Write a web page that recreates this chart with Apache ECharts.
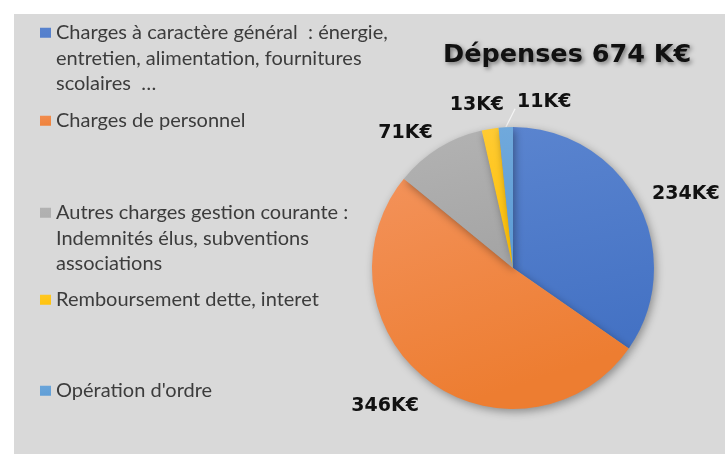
<!DOCTYPE html>
<html>
<head>
<meta charset="utf-8">
<script src="https://cdn.jsdelivr.net/npm/echarts@6/dist/echarts.min.js"></script>
<style>
  html, body { margin: 0; padding: 0; background: #fff; }
  #wrap { position: relative; width: 725px; height: 454px; background: #fff; overflow: hidden; }
  #chart { position: absolute; left: 14px; top: 14px; width: 711px; height: 440px; background: #d9d9d9; }
</style>
</head>
<body>
<div id="wrap"><div id="chart"></div></div>
<script>
// postes de dépenses (K€)
var categories = [
  'Charges à caractère général  : énergie,\nentretien, alimentation, fournitures\nscolaires  …',
  'Charges de personnel',
  'Autres charges gestion courante :\nIndemnités élus, subventions\nassociations',
  'Remboursement dette, interet',
  "Opération d'ordre"
];
var values = [234, 346, 71, 13, 11];
var titleText = 'Dépenses 674 K€';
var unit = 'K€';

var baseColors = ['#4472C4', '#ED7D31', '#A5A5A5', '#FFC000', '#5B9BD5'];
var lightColors = ['#5A84CF', '#F3925A', '#B3B3B3', '#FFCB33', '#70A9DC'];

var chartInstance = echarts.init(document.getElementById('chart'));

var LH = 25.5; // hauteur de ligne de la légende
function legendFor(idx, top) {
  var lines = categories[idx].split('\n').length;
  var h = lines * LH;
  var y0 = LH / 2 - 5;
  return {
    data: [categories[idx]],
    orient: 'vertical',
    left: 26,
    top: top,
    padding: 0,
    itemWidth: 11,
    itemHeight: h,
    icon: 'path://M0,0h0.01M0,' + y0 + 'h11v10h-11zM0,' + h + 'h0.01',
    itemStyle: { borderWidth: 0, shadowBlur: 0 },
    textStyle: {
      fontFamily: 'Lato',
      fontSize: 20,
      lineHeight: LH,
      color: '#3c3c3c'
    },
    selectedMode: false
  };
}

var seriesData = [];
for (var i = 0; i < values.length; i++) {
  var item = {
    name: categories[i],
    value: values[i],
    itemStyle: {
      color: {
        type: 'linear', x: 0, y: 0, x2: 0.3, y2: 1,
        colorStops: [
          { offset: 0, color: lightColors[i] },
          { offset: 1, color: baseColors[i] }
        ]
      }
    }
  };
  if (i === 4) {
    item.labelLine = { show: true, lineStyle: { color: '#f4f4f4', width: 1.2 } };
  }
  seriesData.push(item);
}

// petits décalages des étiquettes
var labelShift = [[-13, 3], [11, 6], [12, 6], [23, 1], [72, 0]];

var option = {
  animation: false,
  title: {
    text: titleText,
    left: 429,
    top: 28,
    padding: 0,
    textStyle: {
      fontFamily: 'DejaVu Sans',
      fontWeight: 'bold',
      fontSize: 25.5,
      color: '#111',
      textShadowColor: 'rgba(0,0,0,0.45)',
      textShadowBlur: 4,
      textShadowOffsetX: 2,
      textShadowOffsetY: 2
    }
  },
  legend: [
    legendFor(0, 6),
    legendFor(1, 94),
    legendFor(2, 186),
    legendFor(3, 273),
    legendFor(4, 364)
  ],
  series: [
    {
      type: 'pie',
      center: [499, 254],
      radius: [0, 141],
      startAngle: 90,
      clockwise: true,
      avoidLabelOverlap: false,
      data: seriesData,
      itemStyle: {
        borderWidth: 0,
        shadowBlur: 8,
        shadowColor: 'rgba(0,0,0,0.35)',
        shadowOffsetX: 2,
        shadowOffsetY: 3
      },
      label: {
        show: true,
        position: 'outside',
        formatter: '{c}' + unit,
        fontFamily: 'DejaVu Sans',
        fontWeight: 'bold',
        fontSize: 19,
        color: '#111'
      },
      labelLine: { show: false, length: 25, length2: 0 },
      labelLayout: function (params) {
        var s = labelShift[params.dataIndex];
        var res = { dx: s[0], dy: s[1] };
        var pts = params.labelLinePoints;
        if (params.dataIndex === 4 && pts && pts.length) {
          // ligne de rappel : du bord de la part vers le coin bas-gauche de l'étiquette
          var r = params.labelRect;
          var end = [r.x + s[0] - 2, r.y + s[1] + r.height - 3];
          res.labelLinePoints = [pts[0], end, end];
        }
        return res;
      },
      emphasis: { disabled: true }
    }
  ]
};

chartInstance.setOption(option);
</script>
</body>
</html>
